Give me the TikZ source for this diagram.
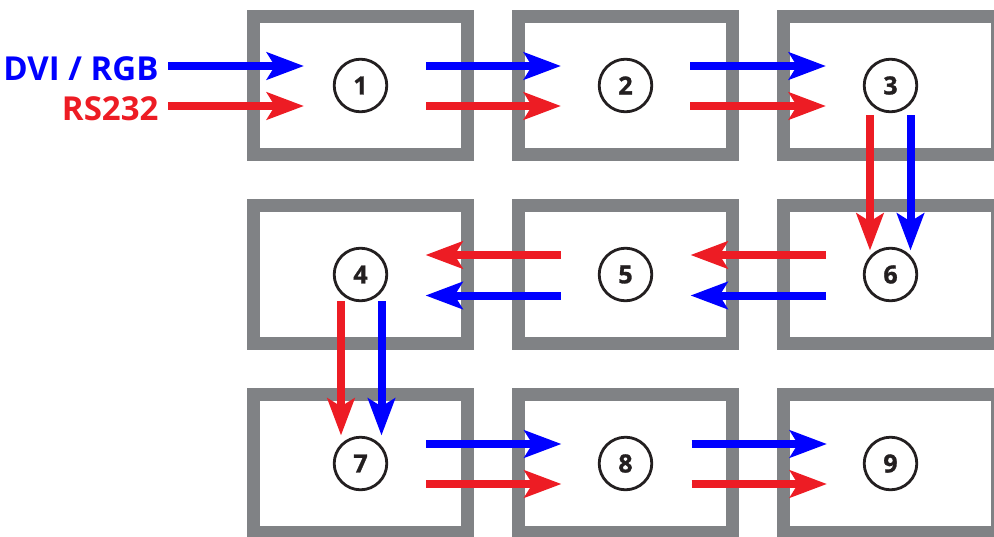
\documentclass[tikz,border=0pt]{standalone}
\usepackage{fontspec}
\setmainfont{Open Sans}
\newfontfamily\badgefont{Open Sans}[BoldFeatures={FakeBold=1.2}]
\usetikzlibrary{arrows.meta,calc}
\definecolor{frame}{RGB}{128,130,133}
\definecolor{sigred}{RGB}{237,28,36}
\definecolor{sigblue}{RGB}{0,0,255}
\definecolor{ink}{RGB}{35,31,32}
\begin{document}
\begin{tikzpicture}[x=1pt,y=-1pt,
  unit/.style={draw=frame, line width=13pt, minimum width=214pt, minimum height=138pt, inner sep=0pt},
  badge/.style={circle, draw=ink, line width=2.8pt, minimum size=52.6pt, inner sep=0pt,
    font=\badgefont\fontsize{25}{25}\selectfont\bfseries, text=ink},
  sig/.style={line width=8pt, -{Stealth[length=37pt,width=27pt,inset=8pt]}},
  rgb/.style={sig, draw=sigblue, fill=sigblue},
  ser/.style={sig, draw=sigred, fill=sigred},
  label/.style={anchor=base east, font=\fontsize{33}{33}\selectfont\bfseries},
]
\useasboundingbox (0,0) rectangle (994,536);
\clip (0,0) rectangle (994,536);

% frames of the nine units
\foreach \n/\x/\y in {1/360.5/85.5, 2/625.5/85.5, 3/890.5/85.5,
                      4/360.5/274.5, 5/625.5/274.5, 6/890.5/274.5,
                      7/360.5/463.5, 8/625.5/463.5, 9/890.5/463.5}
  \node[unit] (b\n) at (\x,\y) {};

% numbered badges
\foreach \n in {1,...,9}
  \node[badge] (c\n) at (b\n) {\n};

% input labels
\node[label, text=sigblue] (dvi) at (162,80) {DVI / RGB};
\node[label, text=sigred] (rs) at (162,120) {RS232};

% inputs into unit 1
\draw[rgb] ($(c1)+(-192.5,-19.5)$) -- ($(c1)+(-56.5,-19.5)$);
\draw[ser] ($(c1)+(-192.5,20.5)$) -- ($(c1)+(-56.5,20.5)$);

% row 1, left to right
\draw[rgb] ($(c1)+(65.5,-19.5)$) -- ($(c2)+(-64.5,-19.5)$);
\draw[ser] ($(c1)+(65.5,20.5)$) -- ($(c2)+(-64.5,20.5)$);
\draw[rgb] ($(c2)+(64.5,-19.5)$) -- ($(c3)+(-64.5,-19.5)$);
\draw[ser] ($(c2)+(64.5,20.5)$) -- ($(c3)+(-64.5,20.5)$);

% unit 3 down to unit 6
\draw[ser] ($(c3)+(-20.5,29.5)$) -- ($(c6)+(-20.5,-24)$);
\draw[rgb] ($(c3)+(20,29.5)$) -- ($(c6)+(20,-24)$);

% row 2, right to left
\draw[ser] ($(c6)+(-64.5,-19.5)$) -- ($(c5)+(65,-19.5)$);
\draw[rgb] ($(c6)+(-64.5,21)$) -- ($(c5)+(65,21)$);
\draw[ser] ($(c5)+(-65,-19.5)$) -- ($(c4)+(65,-19.5)$);
\draw[rgb] ($(c5)+(-65,21)$) -- ($(c4)+(65,21)$);

% unit 4 down to unit 7
\draw[ser] ($(c4)+(-19.5,26.5)$) -- ($(c7)+(-19.5,-28)$);
\draw[rgb] ($(c4)+(21,26.5)$) -- ($(c7)+(21,-28)$);

% row 3, left to right
\draw[rgb] ($(c7)+(65.5,-19.5)$) -- ($(c8)+(-64,-19.5)$);
\draw[ser] ($(c7)+(65.5,20.5)$) -- ($(c8)+(-64,20.5)$);
\draw[rgb] ($(c8)+(66,-19.5)$) -- ($(c9)+(-63.5,-19.5)$);
\draw[ser] ($(c8)+(66,20.5)$) -- ($(c9)+(-63.5,20.5)$);
\end{tikzpicture}
\end{document}
